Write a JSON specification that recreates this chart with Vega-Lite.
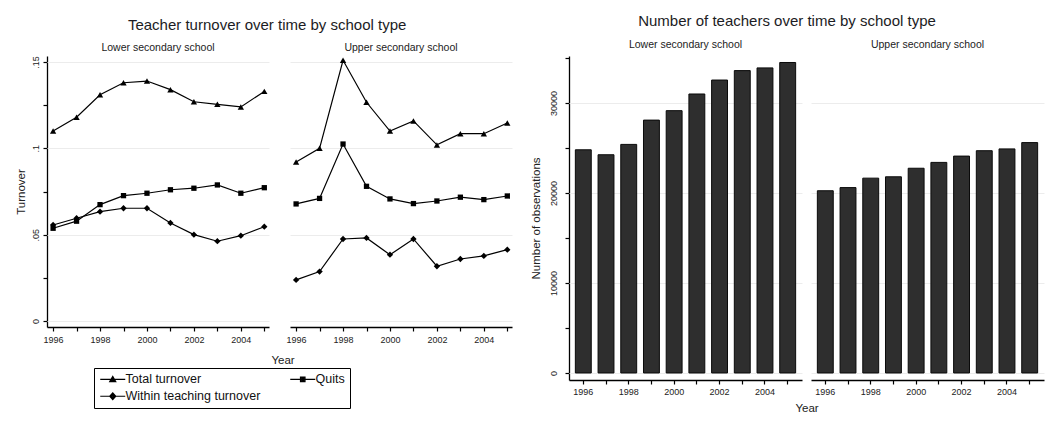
{
  "$schema": "https://vega.github.io/schema/vega-lite/v6.json",
  "background": "white",
  "padding": {"left": 15, "top": 13, "right": 4, "bottom": 2},
  "config": {
    "font": "Liberation Sans",
    "view": {"stroke": null},
    "title": {"font": "Liberation Sans", "fontSize": 15, "fontWeight": "normal", "color": "#1c1c24", "anchor": "middle"},
    "axis": {
      "domainColor": "#000", "domainWidth": 1.3, "tickColor": "#000", "tickWidth": 1.2, "tickSize": 4,
      "labelFont": "Liberation Sans", "labelFontSize": 9, "labelColor": "#222",
      "titleFont": "Liberation Sans", "titleFontSize": 11.5, "titleFontWeight": "normal", "titleColor": "#222",
      "gridColor": "#ececec", "gridWidth": 1
    },
    "header": {
      "labelFont": "Liberation Sans", "labelFontSize": 10.5, "labelColor": "#222",
      "titleFont": "Liberation Sans", "titleFontSize": 11.5, "titleFontWeight": "normal", "titleColor": "#222"
    },
    "legend": {"labelFont": "Liberation Sans"}
  },
  "datasets": {
    "turnover": [
      {"school": "Lower secondary school", "year": 1996, "series": "Total turnover", "value": 0.110},
      {"school": "Lower secondary school", "year": 1997, "series": "Total turnover", "value": 0.118},
      {"school": "Lower secondary school", "year": 1998, "series": "Total turnover", "value": 0.131},
      {"school": "Lower secondary school", "year": 1999, "series": "Total turnover", "value": 0.138},
      {"school": "Lower secondary school", "year": 2000, "series": "Total turnover", "value": 0.139},
      {"school": "Lower secondary school", "year": 2001, "series": "Total turnover", "value": 0.134},
      {"school": "Lower secondary school", "year": 2002, "series": "Total turnover", "value": 0.127},
      {"school": "Lower secondary school", "year": 2003, "series": "Total turnover", "value": 0.1255},
      {"school": "Lower secondary school", "year": 2004, "series": "Total turnover", "value": 0.124},
      {"school": "Lower secondary school", "year": 2005, "series": "Total turnover", "value": 0.133},
      {"school": "Lower secondary school", "year": 1996, "series": "Quits", "value": 0.0537},
      {"school": "Lower secondary school", "year": 1997, "series": "Quits", "value": 0.0578},
      {"school": "Lower secondary school", "year": 1998, "series": "Quits", "value": 0.0674},
      {"school": "Lower secondary school", "year": 1999, "series": "Quits", "value": 0.0726},
      {"school": "Lower secondary school", "year": 2000, "series": "Quits", "value": 0.074},
      {"school": "Lower secondary school", "year": 2001, "series": "Quits", "value": 0.076},
      {"school": "Lower secondary school", "year": 2002, "series": "Quits", "value": 0.0769},
      {"school": "Lower secondary school", "year": 2003, "series": "Quits", "value": 0.0788},
      {"school": "Lower secondary school", "year": 2004, "series": "Quits", "value": 0.074},
      {"school": "Lower secondary school", "year": 2005, "series": "Quits", "value": 0.0772},
      {"school": "Lower secondary school", "year": 1996, "series": "Within teaching turnover", "value": 0.0556},
      {"school": "Lower secondary school", "year": 1997, "series": "Within teaching turnover", "value": 0.0595},
      {"school": "Lower secondary school", "year": 1998, "series": "Within teaching turnover", "value": 0.0633},
      {"school": "Lower secondary school", "year": 1999, "series": "Within teaching turnover", "value": 0.0653},
      {"school": "Lower secondary school", "year": 2000, "series": "Within teaching turnover", "value": 0.0653},
      {"school": "Lower secondary school", "year": 2001, "series": "Within teaching turnover", "value": 0.0568},
      {"school": "Lower secondary school", "year": 2002, "series": "Within teaching turnover", "value": 0.050},
      {"school": "Lower secondary school", "year": 2003, "series": "Within teaching turnover", "value": 0.0462},
      {"school": "Lower secondary school", "year": 2004, "series": "Within teaching turnover", "value": 0.0494},
      {"school": "Lower secondary school", "year": 2005, "series": "Within teaching turnover", "value": 0.0546},
      {"school": "Upper secondary school", "year": 1996, "series": "Total turnover", "value": 0.0921},
      {"school": "Upper secondary school", "year": 1997, "series": "Total turnover", "value": 0.100},
      {"school": "Upper secondary school", "year": 1998, "series": "Total turnover", "value": 0.151},
      {"school": "Upper secondary school", "year": 1999, "series": "Total turnover", "value": 0.1267},
      {"school": "Upper secondary school", "year": 2000, "series": "Total turnover", "value": 0.110},
      {"school": "Upper secondary school", "year": 2001, "series": "Total turnover", "value": 0.1159},
      {"school": "Upper secondary school", "year": 2002, "series": "Total turnover", "value": 0.102},
      {"school": "Upper secondary school", "year": 2003, "series": "Total turnover", "value": 0.1085},
      {"school": "Upper secondary school", "year": 2004, "series": "Total turnover", "value": 0.1085},
      {"school": "Upper secondary school", "year": 2005, "series": "Total turnover", "value": 0.1147},
      {"school": "Upper secondary school", "year": 1996, "series": "Quits", "value": 0.0678},
      {"school": "Upper secondary school", "year": 1997, "series": "Quits", "value": 0.071},
      {"school": "Upper secondary school", "year": 1998, "series": "Quits", "value": 0.1025},
      {"school": "Upper secondary school", "year": 1999, "series": "Quits", "value": 0.078},
      {"school": "Upper secondary school", "year": 2000, "series": "Quits", "value": 0.0707},
      {"school": "Upper secondary school", "year": 2001, "series": "Quits", "value": 0.068},
      {"school": "Upper secondary school", "year": 2002, "series": "Quits", "value": 0.0695},
      {"school": "Upper secondary school", "year": 2003, "series": "Quits", "value": 0.0717},
      {"school": "Upper secondary school", "year": 2004, "series": "Quits", "value": 0.0703},
      {"school": "Upper secondary school", "year": 2005, "series": "Quits", "value": 0.0724},
      {"school": "Upper secondary school", "year": 1996, "series": "Within teaching turnover", "value": 0.0238},
      {"school": "Upper secondary school", "year": 1997, "series": "Within teaching turnover", "value": 0.0286},
      {"school": "Upper secondary school", "year": 1998, "series": "Within teaching turnover", "value": 0.0475},
      {"school": "Upper secondary school", "year": 1999, "series": "Within teaching turnover", "value": 0.0481},
      {"school": "Upper secondary school", "year": 2000, "series": "Within teaching turnover", "value": 0.0384},
      {"school": "Upper secondary school", "year": 2001, "series": "Within teaching turnover", "value": 0.0475},
      {"school": "Upper secondary school", "year": 2002, "series": "Within teaching turnover", "value": 0.0317},
      {"school": "Upper secondary school", "year": 2003, "series": "Within teaching turnover", "value": 0.0359},
      {"school": "Upper secondary school", "year": 2004, "series": "Within teaching turnover", "value": 0.0377},
      {"school": "Upper secondary school", "year": 2005, "series": "Within teaching turnover", "value": 0.0413}
    ],
    "teachers": [
      {"school": "Lower secondary school", "year": 1996, "count": 24800},
      {"school": "Lower secondary school", "year": 1997, "count": 24250},
      {"school": "Lower secondary school", "year": 1998, "count": 25400},
      {"school": "Lower secondary school", "year": 1999, "count": 28100},
      {"school": "Lower secondary school", "year": 2000, "count": 29150},
      {"school": "Lower secondary school", "year": 2001, "count": 31000},
      {"school": "Lower secondary school", "year": 2002, "count": 32550},
      {"school": "Lower secondary school", "year": 2003, "count": 33600},
      {"school": "Lower secondary school", "year": 2004, "count": 33900},
      {"school": "Lower secondary school", "year": 2005, "count": 34500},
      {"school": "Upper secondary school", "year": 1996, "count": 20250},
      {"school": "Upper secondary school", "year": 1997, "count": 20600},
      {"school": "Upper secondary school", "year": 1998, "count": 21650},
      {"school": "Upper secondary school", "year": 1999, "count": 21800},
      {"school": "Upper secondary school", "year": 2000, "count": 22750},
      {"school": "Upper secondary school", "year": 2001, "count": 23400},
      {"school": "Upper secondary school", "year": 2002, "count": 24100},
      {"school": "Upper secondary school", "year": 2003, "count": 24700},
      {"school": "Upper secondary school", "year": 2004, "count": 24900},
      {"school": "Upper secondary school", "year": 2005, "count": 25600}
    ]
  },
  "resolve": {"legend": {"shape": "independent"}},
  "spacing": 10,
  "hconcat": [
    {
      "title": {"text": "Teacher turnover over time by school type", "offset": 10},
      "data": {"name": "turnover"},
      "facet": {
        "column": {
          "field": "school", "type": "nominal", "title": "Year",
          "header": {"labelOrient": "top", "titleOrient": "bottom", "labelPadding": 3, "titlePadding": 1}
        }
      },
      "spacing": 13,
      "spec": {
        "width": 222,
        "height": 271,
        "encoding": {
          "x": {
            "field": "year", "type": "quantitative",
            "scale": {"domain": [1995.74, 2005.2], "nice": false, "zero": false},
            "axis": {
              "title": null, "values": [1996, 1997, 1998, 1999, 2000, 2001, 2002, 2003, 2004, 2005],
              "format": "d", "labelExpr": "datum.value % 2 == 0 ? datum.label : ''", "grid": false, "labelPadding": 4
            }
          },
          "y": {
            "field": "value", "type": "quantitative",
            "scale": {"domain": [-0.0035, 0.1535], "nice": false, "zero": false},
            "axis": {
              "title": "Turnover", "titlePadding": 5,
              "values": [0, 0.025, 0.05, 0.075, 0.1, 0.125, 0.15],
              "format": ".2~f",
              "labelExpr": "round(datum.value * 40) % 2 == 1 ? '' : (datum.value == 0 ? '0' : substring(datum.label, 1))",
              "labelAngle": -90, "labelAlign": "center", "labelBaseline": "bottom", "labelPadding": 3,
              "grid": true,
              "gridOpacity": {"condition": {"test": "round(datum.value * 40) % 2 == 1", "value": 0}, "value": 1}
            }
          }
        },
        "layer": [
          {
            "mark": {"type": "line", "color": "#000", "strokeWidth": 1.2},
            "encoding": {"detail": {"field": "series", "type": "nominal"}}
          },
          {
            "transform": [{"filter": "datum.series == 'Total turnover'"}],
            "mark": {"type": "point", "filled": true, "color": "#000", "opacity": 1, "size": 40, "shape": "triangle-up"}
          },
          {
            "transform": [{"filter": "datum.series == 'Quits'"}],
            "mark": {"type": "point", "filled": true, "color": "#000", "opacity": 1, "size": 28, "shape": "square"}
          },
          {
            "transform": [{"filter": "datum.series == 'Within teaching turnover'"}],
            "mark": {"type": "point", "filled": true, "color": "#000", "opacity": 1, "size": 40, "shape": "diamond"}
          },
          {
            "mark": {"type": "point", "filled": false, "color": "#000", "opacity": 0, "size": 36},
            "encoding": {
              "shape": {
                "field": "series", "type": "nominal",
                "scale": {
                  "domain": ["Total turnover", "Quits", "Within teaching turnover"],
                  "range": [
                    "M-1,0H4M0.9,0.45L1.5,-0.6L2.1,0.45ZM1.2,0.3L1.5,-0.25L1.8,0.3ZM1.42,0.15L1.5,0L1.58,0.15Z",
                    "M-1,0H4M1.05,-0.45H1.95V0.45H1.05ZM1.3,-0.2H1.7V0.2H1.3Z",
                    "M-1,0H4M1.5,-0.65L2.1,0L1.5,0.65L0.9,0ZM1.5,-0.32L1.82,0L1.5,0.32L1.18,0Z"
                  ]
                },
                "legend": {
                  "title": null,
                  "orient": "none", "legendX": 47, "legendY": 312,
                  "direction": "horizontal", "columns": 2, "gridAlign": "all",
                  "columnPadding": 26, "rowPadding": 4, "padding": 5,
                  "strokeColor": "#000",
                  "labelFontSize": 12.5, "labelColor": "#111", "labelOffset": 14, "labelLimit": 400,
                  "labelExpr": "datum.label == 'Quits' ? 'Quits\u00a0\u00a0\u00a0\u00a0\u00a0\u00a0\u00a0\u00a0\u00a0\u00a0\u00a0\u00a0\u00a0\u00a0\u00a0\u00a0\u00a0\u00a0\u00a0\u00a0\u00a0\u00a0\u00a0\u00a0\u00a0\u00a0' : datum.label",
                  "symbolSize": 100, "symbolFillColor": "#000", "symbolStrokeColor": "#000", "symbolStrokeWidth": 1.2, "symbolOpacity": 1,
                  "encode": {
                    "legend": {"update": {"strokeWidth": {"value": 1.2}}},
                    "symbols": {
                      "update": {
                        "fill": {"value": "#000"},
                        "stroke": {"value": "#000"},
                        "strokeWidth": {"value": 1.2},
                        "opacity": {"value": 1}
                      }
                    }
                  }
                }
              }
            }
          }
        ]
      }
    },
    {
      "title": {"text": "Number of teachers over time by school type", "offset": 11},
      "data": {"name": "teachers"},
      "facet": {
        "column": {
          "field": "school", "type": "nominal", "title": "Year",
          "header": {"labelOrient": "top", "titleOrient": "bottom", "labelPadding": 6, "titlePadding": -3}
        }
      },
      "spacing": 9,
      "spec": {
        "width": 233,
        "height": 324,
        "mark": {"type": "bar", "color": "#2e2e2e", "stroke": "#0a0a0a", "strokeWidth": 1},
        "encoding": {
          "x": {
            "field": "year", "type": "ordinal",
            "scale": {"paddingInner": 0.3, "paddingOuter": 0.28},
            "axis": {
              "title": null, "labelAngle": 0,
              "labelExpr": "datum.value % 2 == 0 ? datum.label : ''", "labelPadding": 3
            }
          },
          "y": {
            "field": "count", "type": "quantitative",
            "scale": {"domain": [-780, 35222], "nice": false, "zero": false},
            "axis": {
              "title": "Number of observations", "titlePadding": 8,
              "values": [0, 5000, 10000, 15000, 20000, 25000, 30000, 35000],
              "format": "d",
              "labelExpr": "datum.value % 10000 == 0 ? datum.label : ''",
              "labelAngle": -90, "labelAlign": "center", "labelBaseline": "bottom", "labelPadding": 7,
              "grid": true,
              "gridOpacity": {"condition": {"test": "datum.value % 10000 != 0", "value": 0}, "value": 1}
            }
          }
        }
      }
    }
  ]
}
